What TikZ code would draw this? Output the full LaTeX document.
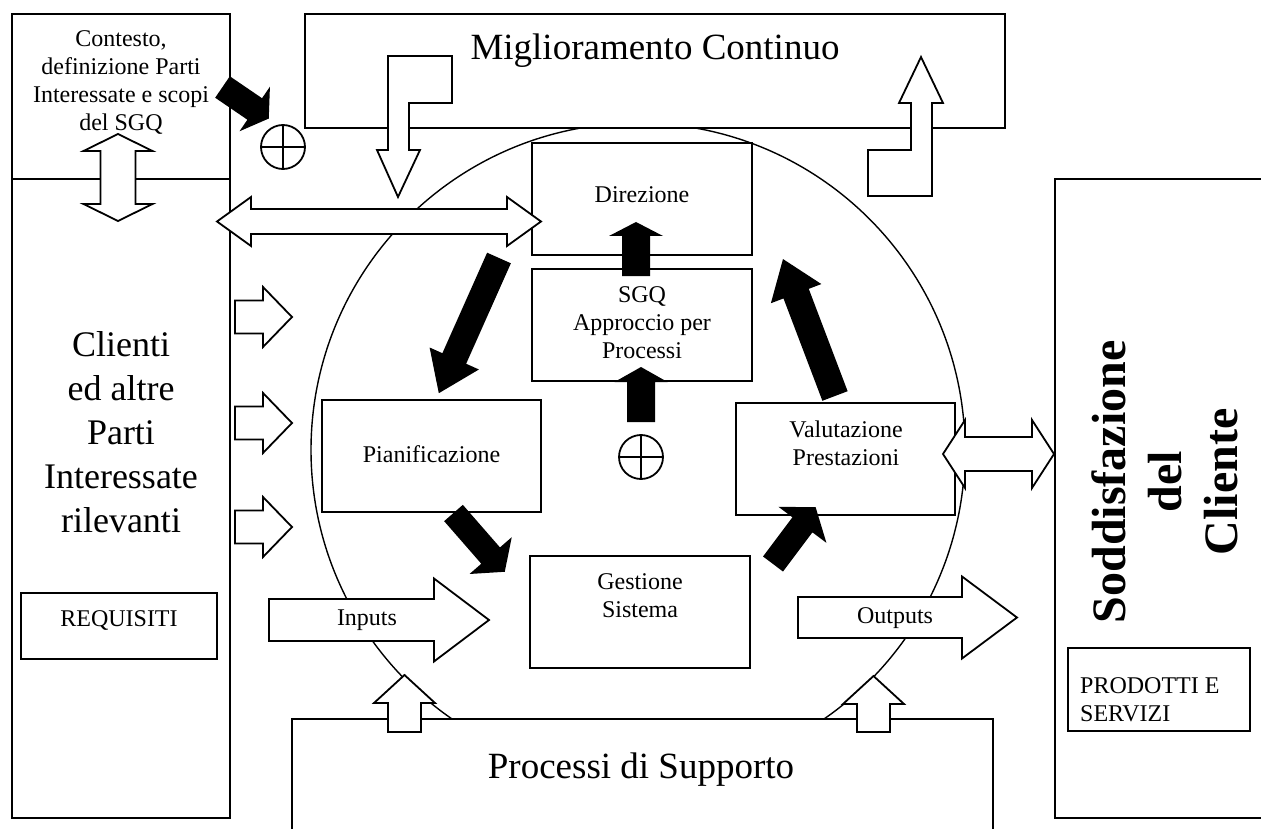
\documentclass[tikz,border=0pt]{standalone}
\usepackage{fontspec}
\setmainfont{Liberation Serif}
\tikzset{
  linea/.style={line width=1.8pt},
  scatola/.style={draw=black,fill=white,line width=1.8pt},
  vuota/.style={draw=black,fill=white,line width=1.8pt},
  nera/.style={fill=black},
  testo/.style={inner sep=0pt,align=center,font=\fontsize{24}{28}\selectfont},
  grande/.style={inner sep=0pt,align=center,font=\fontsize{37}{44}\selectfont},
}
% freccia a blocco: stile, coda, angolo, lunghezza, mezzo fusto, mezza testa, testa
\newcommand{\blocco}[7]{%
  \path[#1,shift={#2},rotate=#3] (0,-#5) -- ({#4-#7},-#5) -- ({#4-#7},-#6) -- (#4,0)
    -- ({#4-#7},#6) -- ({#4-#7},#5) -- (0,#5) -- cycle;}
% freccia doppia: stile, punta, angolo, lunghezza, mezzo fusto, mezza testa, testa
\newcommand{\doppia}[7]{%
  \path[#1,shift={#2},rotate=#3] (0,0) -- (#7,-#6) -- (#7,-#5) -- ({#4-#7},-#5) -- ({#4-#7},-#6)
    -- (#4,0) -- ({#4-#7},#6) -- ({#4-#7},#5) -- (#7,#5) -- (#7,#6) -- cycle;}

\begin{document}
\begin{tikzpicture}[x=1pt,y=-1pt]
  \useasboundingbox (0,0) rectangle (1261,829);
  \clip (0,0) rectangle (1261,829);
  \fill[white] (0,0) rectangle (1261,829);

  \draw[line width=1.4pt] (638,450) circle (327);

  \draw[scatola] (305,14) rectangle (1005,128);
  \draw[scatola] (12,14) rectangle (230,179);
  \draw[scatola] (12,179) rectangle (230,818);
  \draw[scatola] (21,593) rectangle (217,659);
  \path[scatola] (1275,179) -- (1055,179) -- (1055,818) -- (1275,818);
  \draw[scatola] (1068,648) rectangle (1250,731);
  \path[scatola] (292,845) -- (292,719) -- (993,719) -- (993,845);
  \draw[scatola] (532,143) rectangle (752,255);
  \draw[scatola] (532,269) rectangle (752,381);
  \draw[scatola] (322,400) rectangle (541,512);
  \draw[scatola] (736,403) rectangle (955,515);
  \draw[scatola] (530,556) rectangle (750,668);

  \path[vuota] (388,56) -- (452,56) -- (452,103) -- (409,103) -- (409,150) -- (420,150)
    -- (398,197) -- (377,150) -- (388,150) -- cycle;
  \path[vuota] (921,57) -- (943,103) -- (932,103) -- (932,196) -- (868,196) -- (868,150)
    -- (911,150) -- (911,103) -- (899,103) -- cycle;
  \doppia{vuota}{(118,134)}{-90}{87}{17.5}{34.5}{17}
  \doppia{vuota}{(217,221.5)}{0}{324}{12.5}{24.5}{34}
  \doppia{vuota}{(943,454)}{0}{111}{17}{34}{22}
  \foreach \y in {317,423,527}{
    \blocco{vuota}{(235,\y)}{0}{57}{16.5}{30}{29}
  }
  \blocco{vuota}{(269,620)}{0}{220}{21}{41.5}{55}
  \blocco{vuota}{(798,617.5)}{0}{219}{20.5}{41}{55}
  \blocco{vuota}{(404.5,732)}{90}{57}{16.5}{30.5}{28}
  \blocco{vuota}{(873.5,732)}{90}{56}{16.5}{30.5}{28}

  \blocco{nera}{(222.5,87)}{-34.3}{56}{13}{27}{17}
  \blocco{nera}{(499,258)}{-114}{148}{13}{27}{38}
  \blocco{nera}{(835,396)}{110.8}{146.5}{13.5}{27}{37}
  \blocco{nera}{(453.5,513)}{-48.9}{78}{12.4}{28}{21.5}
  \blocco{nera}{(773,564)}{53.1}{71}{12.5}{30}{22}
  \blocco{nera}{(636,276)}{90}{54}{14}{27}{14}
  \blocco{nera}{(641,422)}{90}{55}{14}{26.5}{15}

  \draw[linea] (283,147) circle (22) (261,147) -- (305,147) (283,125) -- (283,169);
  \draw[linea] (641,457) circle (22) (619,457) -- (663,457) (641,435) -- (641,479);

  \node[testo,anchor=north] (contesto) at (121,30) {Contesto,\\definizione Parti\\Interessate e scopi\\del SGQ};
  \node[grande,anchor=base] (miglioramento) at (655,60) {Miglioramento Continuo};
  \node[grande,anchor=north,font=\fontsize{36}{44}\selectfont] (clienti) at (121,331)
    {Clienti\\ed altre\\Parti\\Interessate\\rilevanti};
  \node[testo,anchor=base] (requisiti) at (119,626) {REQUISITI};
  \node[testo,anchor=base] (direzione) at (642,203) {Direzione};
  \node[testo,anchor=north] (sgq) at (642,286) {SGQ\\Approccio per\\Processi};
  \node[testo,anchor=base] (pianificazione) at (431.5,462) {Pianificazione};
  \node[testo,anchor=north] (valutazione) at (846,421) {Valutazione\\Prestazioni};
  \node[testo,anchor=north] (gestione) at (640,573) {Gestione\\Sistema};
  \node[testo,anchor=base] (inputs) at (367,625) {Inputs};
  \node[testo,anchor=base] (outputs) at (895,623) {Outputs};
  \node[grande,anchor=base] (processi) at (641,778) {Processi di Supporto};
  \node[inner sep=0pt,align=center,rotate=90,font=\fontsize{48}{56}\selectfont\bfseries]
    (soddisfazione) at (1165,482) {Soddisfazione\\del\\Cliente};
  \node[testo,align=left,anchor=north west] (prodotti) at (1080,677) {PRODOTTI E\\SERVIZI};
\end{tikzpicture}
\end{document}
